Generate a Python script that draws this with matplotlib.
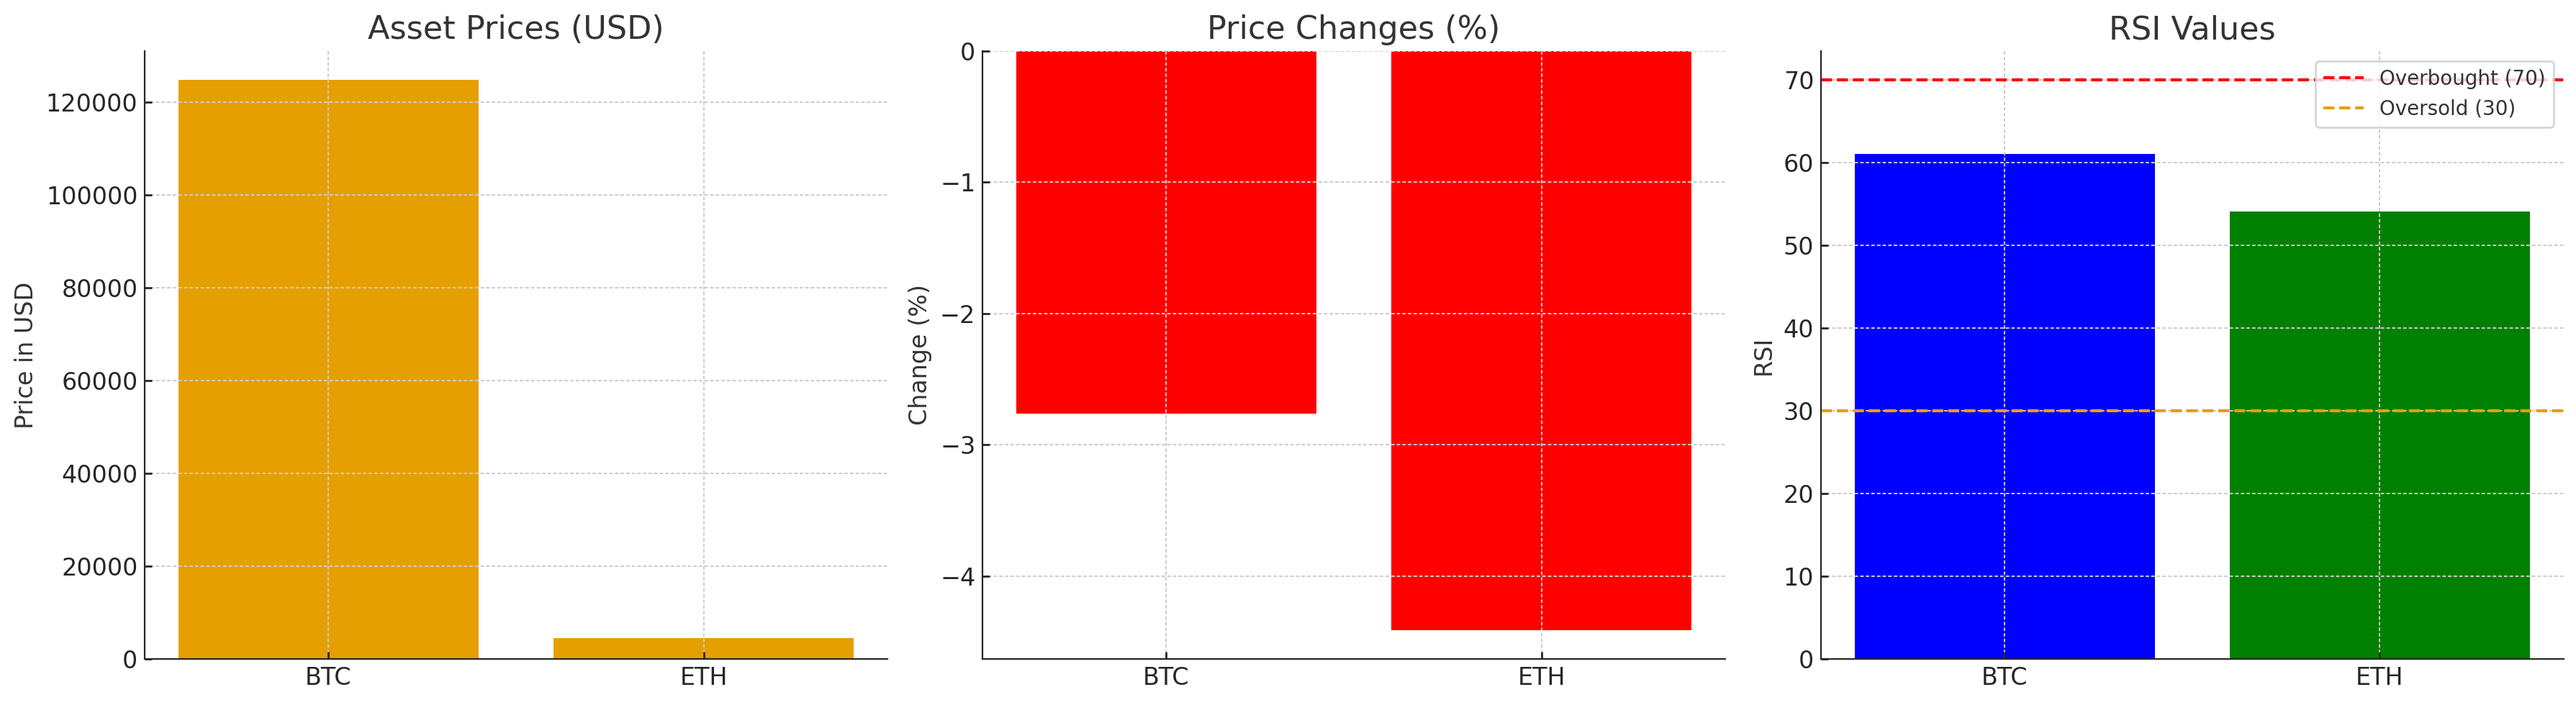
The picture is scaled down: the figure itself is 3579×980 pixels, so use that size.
import matplotlib
matplotlib.use("Agg")
import matplotlib.pyplot as plt

# data
assets = ["BTC", "ETH"]
prices_usd = [124800, 4450]
price_changes = [-2.76, -4.41]
rsi_values = [61.1, 54.1]
overbought = 70
oversold = 30

price_color = "#E69F00"
change_color = "red"
rsi_colors = ["blue", "green"]

plt.rcParams["font.family"] = "DejaVu Sans"
plt.rcParams["axes.edgecolor"] = "#262626"
plt.rcParams["xtick.color"] = "#262626"
plt.rcParams["ytick.color"] = "#262626"

fig = plt.figure(figsize=(17.895, 4.9), dpi=200)

# axes placed to match the reference layout
ax_price = fig.add_axes([0.0562, 0.0653, 0.2883, 0.8623])
ax_change = fig.add_axes([0.3814, 0.0653, 0.2883, 0.8623])
ax_rsi = fig.add_axes([0.7069, 0.0653, 0.2883, 0.8623])


def style_axis(ax, title, ylabel):
    ax.set_title(title, fontsize=16, color="#333333", pad=6)
    ax.set_ylabel(ylabel, fontsize=12, color="#333333")
    ax.spines["top"].set_visible(False)
    ax.spines["right"].set_visible(False)
    ax.tick_params(direction="in", length=3.5, width=1, labelsize=12, labelcolor="#262626")
    ax.grid(True, linestyle=(0, (2.5, 1.5)), linewidth=0.7, color="#cccccc")


# asset prices
ax_price.bar(assets, prices_usd, color=price_color)
style_axis(ax_price, "Asset Prices (USD)", "Price in USD")

# price changes
ax_change.bar(assets, price_changes, color=change_color)
style_axis(ax_change, "Price Changes (%)", "Change (%)")

# rsi with overbought / oversold levels
ax_rsi.bar(assets, rsi_values, color=rsi_colors)
ax_rsi.axhline(overbought, color="red", linestyle="--", linewidth=1.5, label=f"Overbought ({overbought})")
ax_rsi.axhline(oversold, color=price_color, linestyle="--", linewidth=1.5, label=f"Oversold ({oversold})")
style_axis(ax_rsi, "RSI Values", "RSI")
leg = ax_rsi.legend(loc="upper right", fontsize=10, edgecolor="#cccccc")
for text in leg.get_texts():
    text.set_color("#333333")

fig.savefig("out.png", dpi=200)
